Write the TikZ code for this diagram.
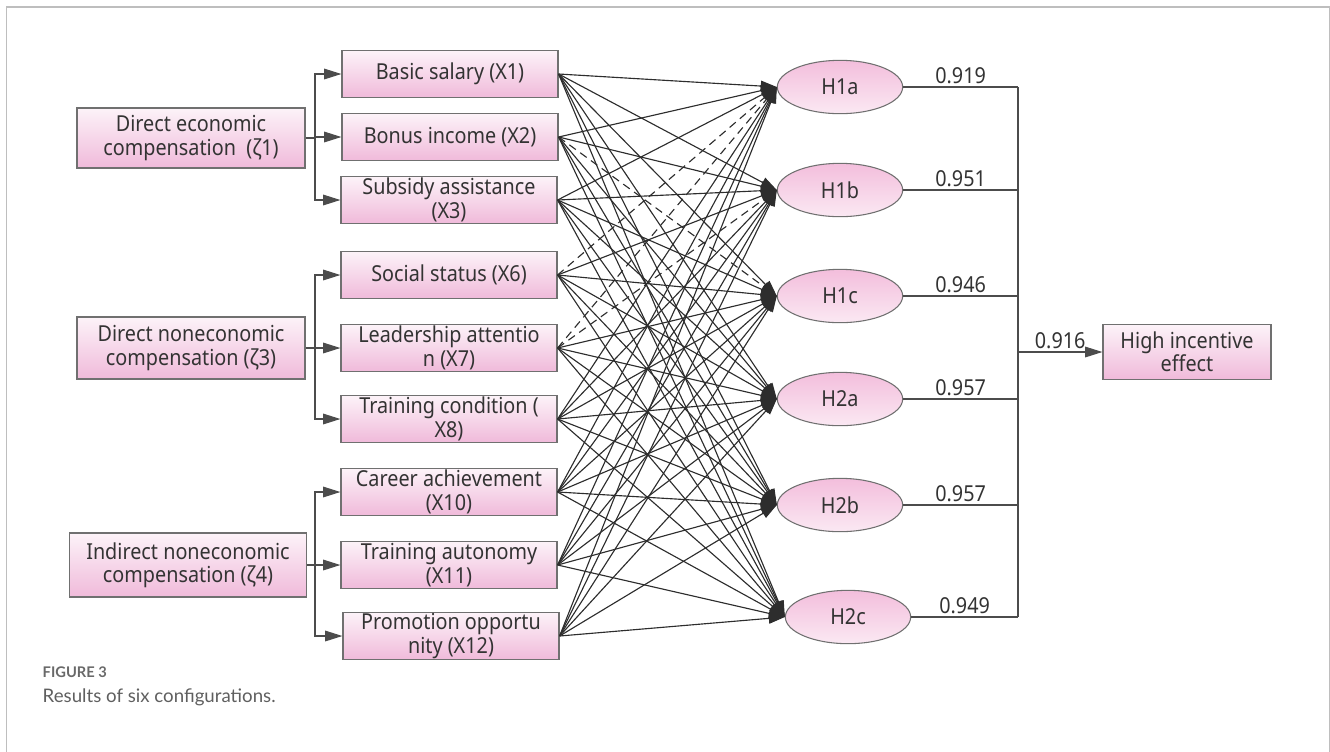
\documentclass[tikz,border=0pt]{standalone}
\usepackage{fontspec}
\setmainfont[FakeStretch=0.9]{Noto Sans}
\newfontfamily\capfont{Lato}
\usepackage{tikz}
\usetikzlibrary{arrows.meta,shapes.geometric,calc,backgrounds}

\definecolor{boxpink}{RGB}{240,186,218}
\definecolor{ovalpink}{RGB}{243,190,220}
\definecolor{rimgray}{RGB}{112,112,112}
\definecolor{wiregray}{RGB}{45,45,45}
\definecolor{txtgray}{RGB}{51,51,51}
\definecolor{framegray}{RGB}{190,190,190}
\definecolor{capgray}{RGB}{105,105,105}

\tikzset{
  groupbox/.style={draw=rimgray, line width=0.9pt, top color=boxpink!18, bottom color=boxpink,
    align=center, inner sep=1pt, text=txtgray, font=\fontsize{16.5}{17.5}\selectfont},
  itembox/.style={groupbox, minimum width=162pt, minimum height=35pt},
  hypo/.style={ellipse, draw=rimgray, line width=0.8pt, top color=ovalpink, bottom color=ovalpink!35,
    text=txtgray, font=\fontsize{16.5}{17.5}\selectfont, minimum width=94pt, minimum height=40pt},
  wire/.style={draw=wiregray!85, line width=0.8pt},
  bra/.style={wire, -{Triangle[length=13pt,width=8pt]}},
  link/.style={draw=wiregray, line width=0.85pt, -{Triangle[length=12pt,width=8pt]}},
  nolink/.style={link, dash pattern=on 6pt off 4pt},
  num/.style={text=txtgray, font=\fontsize{16.5}{17.5}\selectfont, inner sep=2pt}
}

\begin{document}
\begin{tikzpicture}[x=0.75pt,y=-0.75pt]
\useasboundingbox (0,0) rectangle (1330,751);
\draw[framegray, line width=1pt] (6.5,760) -- (6.5,7) -- (1329.5,7) -- (1329.5,760);

% compensation groups
\node[groupbox, minimum width=171pt, minimum height=45pt] (Z1) at (191,138) {Direct economic\\compensation~~(ζ1)};
\node[groupbox, minimum width=171pt, minimum height=46.5pt] (Z3) at (191,348) {Direct noneconomic\\compensation (ζ3)};
\node[groupbox, minimum width=178pt, minimum height=48pt] (Z4) at (188,565) {Indirect noneconomic\\compensation (ζ4)};

% conditions
\node[itembox] (X1) at (450,74) {Basic salary (X1)};
\node[itembox] (X2) at (450,137) {Bonus income (X2)};
\node[itembox] (X3) at (449,200) {Subsidy assistance\\(X3)};
\node[itembox] (X6) at (449,275) {Social status (X6)};
\node[itembox] (X7) at (449,348) {Leadership attentio\\n (X7)};
\node[itembox] (X8) at (449,419) {Training condition (\\X8)};
\node[itembox] (X10) at (449,492) {Career achievement\\(X10)};
\node[itembox] (X11) at (449,565) {Training autonomy\\(X11)};
\node[itembox, minimum height=32pt] (X12) at (451,636) {Promotion opportu\\nity (X12)};

% brackets
\coordinate (t1) at (315,138);
\coordinate (t3) at (315,348);
\coordinate (t4) at (315,565);
\draw[wire] (Z1.east) -- (t1);
\draw[wire] (Z3.east) -- (t3);
\draw[wire] (Z4.east) -- (t4);
\foreach \x in {X1,X2,X3} \draw[bra] (t1) |- (\x.west);
\foreach \x in {X6,X7,X8} \draw[bra] (t3) |- (\x.west);
\foreach \x in {X10,X11,X12} \draw[bra] (t4) |- (\x.west);

% configurations
\node[hypo] (H1a) at (840,87) {H1a};
\node[hypo] (H1b) at (840,190) {H1b};
\node[hypo] (H1c) at (840,296) {H1c};
\node[hypo] (H2a) at (840,399) {H2a};
\node[hypo] (H2b) at (840,505) {H2b};
\node[hypo] (H2c) at (848,617) {H2c};

% paths
\foreach \s/\hs in {X1/{H1a,H1b,H1c,H2a,H2b,H2c},
                    X2/{H1a,H1b,H2a,H2b,H2c},
                    X3/{H1a,H1b,H1c,H2a,H2b,H2c},
                    X6/{H1b,H1c,H2a,H2b,H2c},
                    X7/{H1c,H2a,H2b,H2c},
                    X8/{H1a,H1b,H1c,H2a,H2b,H2c},
                    X10/{H1a,H1b,H1c,H2a,H2b,H2c},
                    X11/{H1a,H1b,H1c,H2a,H2b,H2c},
                    X12/{H1a,H1b,H1c,H2a,H2b,H2c}}
  \foreach \t in \hs \draw[link] (\s.east) -- (\t.west);
\foreach \s/\t in {X2/H1c,X6/H1a,X7/H1a,X7/H1b}
  \draw[nolink] (\s.east) -- (\t.west);

% outcome
\coordinate (bus) at (1018,352);
\foreach \h/\v in {H1a/0.919,H1b/0.951,H1c/0.946,H2a/0.957,H2b/0.957,H2c/0.949}
  \draw[wire] (\h.east) -- node[num, above, name=v\h] {\v} (\h.east -| bus);
\draw[wire] (H1a.east -| bus) -- (H2c.east -| bus);
\node[groupbox, minimum width=126pt, minimum height=41pt] (HE) at (1187,352) {High incentive\\effect};
\draw[bra] (bus) -- node[num, above, name=vHE] {0.916} (HE.west);

% caption
\node[anchor=west, text=capgray, font=\capfont\bfseries\fontsize{11}{13}\selectfont] (fig) at (38,672) {FIGURE 3};
\node[anchor=west, text=capgray!90!black, font=\capfont\fontsize{14}{17}\selectfont] (cap) at (38,697) {Results of six configurations.};
\end{tikzpicture}
\end{document}
